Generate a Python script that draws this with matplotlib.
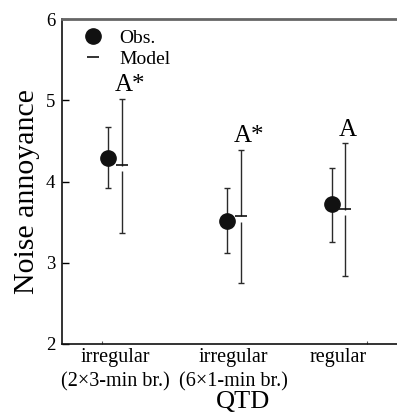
import numpy as np
import matplotlib
matplotlib.use("Agg")
import matplotlib.pyplot as plt
from matplotlib.lines import Line2D

plt.rcParams["font.family"] = ["Liberation Serif", "DejaVu Serif"]

# QTD conditions
categories = ["irregular\n(2×3-min br.)", "irregular\n(6×1-min br.)", "regular"]

# observed mean annoyance with interval bounds
obs_mean = [4.29, 3.51, 3.72]
obs_low = [3.92, 3.12, 3.26]
obs_high = [4.67, 3.92, 4.17]

# model prediction with interval bounds
model_mean = [4.20, 3.58, 3.66]
model_low = [3.37, 2.75, 2.84]
model_high = [5.02, 4.39, 4.47]

# significance letters above the model bars
letters = ["A*", "A*", "A"]

xpos = np.array([0.0, 1.0, 1.88])
shift = 0.058

fig = plt.figure(figsize=(3.97, 4.12), dpi=100)
ax = fig.add_axes([62 / 397, 68 / 412, 362 / 397, 325 / 412])

ecol = "#2a2a2a"
om = np.array(obs_mean)
mm = np.array(model_mean)

ax.errorbar(xpos - shift, om,
            yerr=[om - np.array(obs_low), np.array(obs_high) - om],
            fmt="o", ms=11, color="#111111", ecolor=ecol, elinewidth=1.0,
            capsize=2.2, capthick=1.0, zorder=3)
ax.errorbar(xpos + shift, mm,
            yerr=[mm - np.array(model_low), np.array(model_high) - mm],
            fmt="none", ecolor=ecol, elinewidth=1.0,
            capsize=2.2, capthick=1.0, zorder=3)
# small break in the model line just under the mean dash
ax.vlines(xpos + shift, mm - 0.075, mm - 0.01, color="white", lw=2.5, zorder=4)
ax.plot(xpos + shift, mm, ls="none", marker="_", ms=8, mew=1.2,
        color="#111111", zorder=5)

for x, top, lab in zip(xpos + shift, model_high, letters):
    ax.annotate(lab, (x, top), xytext=(-5, 2), textcoords="offset points",
                ha="left", va="bottom", fontsize=18)

ax.set_xlim(-0.445, 2.6)
ax.set_ylim(2, 6)
ax.set_yticks([2, 3, 4, 5, 6])
ax.set_xticks(xpos)
ax.set_xticklabels(categories, fontsize=14.5, linespacing=1.35)
ax.set_xticks([-0.109, 1.0, 2.12], minor=True)
ax.tick_params(axis="x", which="major", length=0, pad=3)
ax.tick_params(axis="x", which="minor", direction="in", length=2, width=0.8,
               color="#555555")
ax.tick_params(axis="y", direction="in", length=5, width=1.0,
               labelsize=13.5, pad=5)

ax.set_ylabel("Noise annoyance", fontsize=21.5)
ax.yaxis.set_label_coords(-0.062, 0.47)
ax.set_xlabel("QTD", fontsize=19, labelpad=-0.5)

for s in ["left", "bottom"]:
    ax.spines[s].set_linewidth(1.2)
    ax.spines[s].set_color("#111111")
ax.spines["top"].set_linewidth(2.0)
ax.spines["top"].set_color("#666666")
ax.spines["right"].set_visible(False)

handles = [
    Line2D([], [], ls="none", marker="o", ms=11, color="#111111"),
    Line2D([], [], ls="none", marker="_", ms=8, mew=1.2, color="#111111"),
]
ax.legend(handles, ["Obs.", "Model"], loc="upper left", frameon=False,
          fontsize=14, bbox_to_anchor=(0.01, 1.004), handletextpad=0.55,
          labelspacing=0.15, borderaxespad=0.2, handlelength=1.6)

fig.savefig("out.png", dpi=100)
